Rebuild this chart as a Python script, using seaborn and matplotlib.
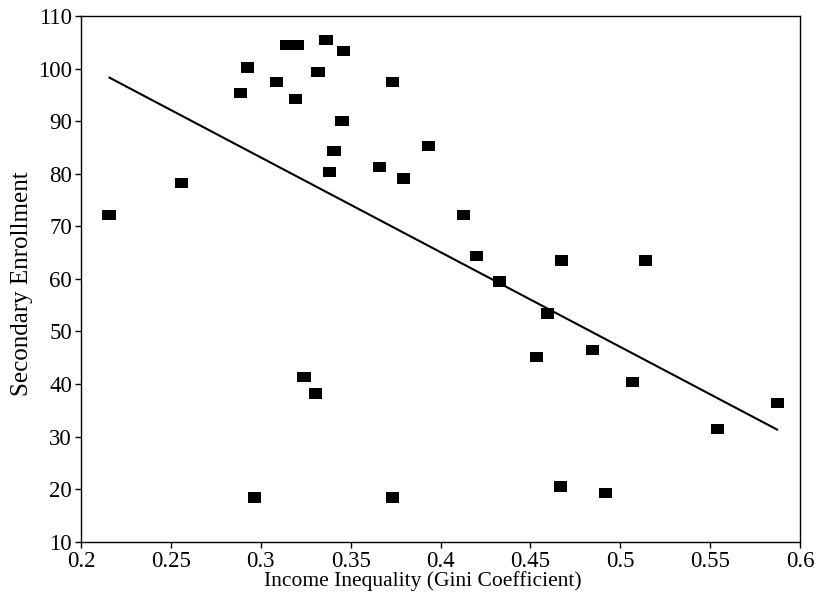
import matplotlib
matplotlib.use("Agg")
import matplotlib.pyplot as plt
from matplotlib.markers import MarkerStyle
import seaborn as sns
import pandas as pd

# Data
gini = [0.2156, 0.2559, 0.2888, 0.2925, 0.2964, 0.3087, 0.3142, 0.3203, 0.3194,
        0.3241, 0.3304, 0.3318, 0.3363, 0.3382, 0.3407, 0.3459, 0.3452, 0.3659,
        0.3735, 0.3731, 0.3793, 0.3933, 0.4130, 0.4200, 0.4326, 0.4533, 0.4593,
        0.4674, 0.4668, 0.4844, 0.4917, 0.5070, 0.5141, 0.5539, 0.5874]
enroll = [72.2, 78.2, 95.3, 100.2, 18.4, 97.5, 104.5, 104.5, 94.2,
          41.3, 38.2, 99.3, 105.4, 80.3, 84.3, 103.3, 90.1, 81.3,
          97.4, 18.4, 79.1, 85.2, 72.2, 64.3, 59.5, 45.1, 53.4,
          63.5, 20.5, 46.4, 19.2, 40.3, 63.5, 31.5, 36.3]

fit_x = [0.2157, 0.5874]
fit_y = [98.3, 31.3]

x_ticks = [0.2, 0.25, 0.3, 0.35, 0.4, 0.45, 0.5, 0.55, 0.6]
x_tick_labels = ["0.2", "0.25", "0.3", "0.35", "0.4", "0.45", "0.5", "0.55", "0.6"]
y_ticks = [10, 20, 30, 40, 50, 60, 70, 80, 90, 100, 110]
y_tick_labels = [str(v) for v in y_ticks]

sns.set_style("ticks")
plt.rcParams["font.family"] = ["Liberation Serif", "DejaVu Serif"]
plt.rcParams["axes.linewidth"] = 1.0

df = pd.DataFrame({"gini": gini, "enroll": enroll})

fig = plt.figure(figsize=(8.2, 6.0), dpi=100)
ax = fig.add_axes([0.0988, 0.0972, 0.8768, 0.8761])

rect = MarkerStyle([(-1.3, -1.0), (1.3, -1.0), (1.3, 1.0), (-1.3, 1.0), (-1.3, -1.0)])
sns.scatterplot(data=df, x="gini", y="enroll", marker=rect, s=90, color="black",
                edgecolor="none", linewidth=0, ax=ax, zorder=3)
sns.lineplot(x=fit_x, y=fit_y, color="black", linewidth=1.5, ax=ax, zorder=2)

ax.set_xlim(0.2, 0.6)
ax.set_ylim(10, 110)
ax.set_xticks(x_ticks)
ax.set_xticklabels(x_tick_labels)
ax.set_yticks(y_ticks)
ax.set_yticklabels(y_tick_labels)
ax.tick_params(axis="both", direction="out", length=4.5, width=1.0, labelsize=16.5,
               colors="black", pad=2)
for sp in ax.spines.values():
    sp.set_visible(True)
    sp.set_color("black")
    sp.set_linewidth(1.0)

ax.set_xlabel("Income Inequality (Gini Coefficient)", fontsize=15.5, color="black")
ax.set_ylabel("Secondary Enrollment", fontsize=18, color="black")
ax.xaxis.set_label_coords(0.4757, -0.0843)
ax.xaxis.label.set_verticalalignment("baseline")
ax.yaxis.set_label_coords(-0.067, 0.49)

fig.savefig("out.png", dpi=100)
